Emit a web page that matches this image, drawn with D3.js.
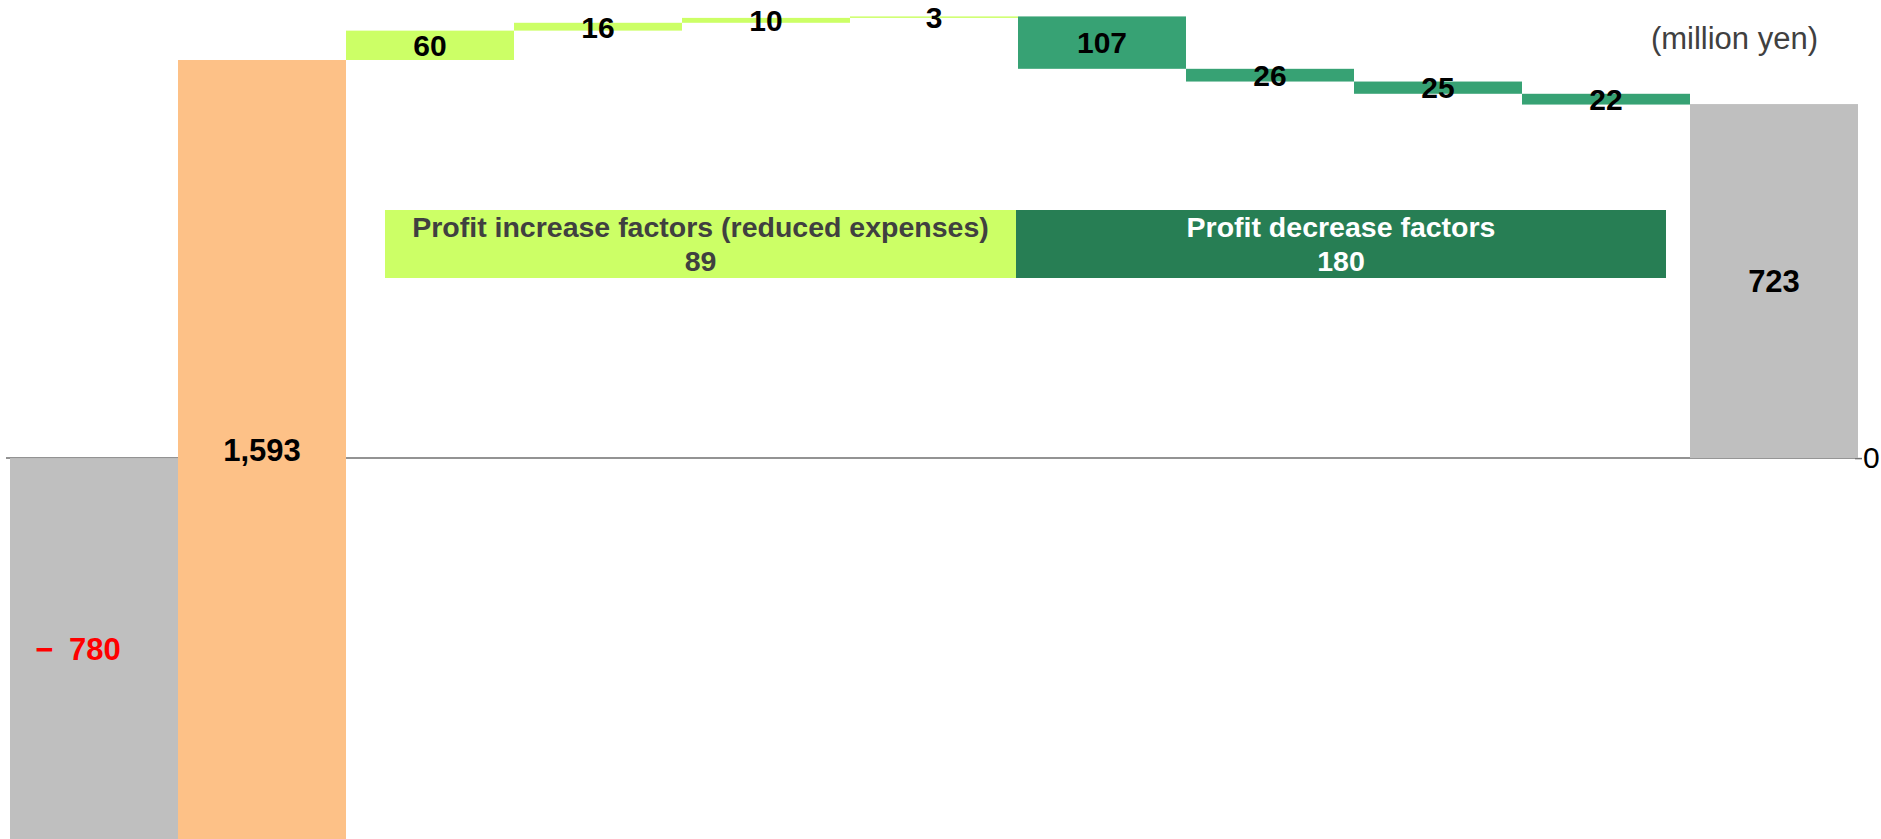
<!DOCTYPE html>
<html>
<head>
<meta charset="utf-8">
<script src="https://cdn.jsdelivr.net/npm/d3@7"></script>
<style>
	html, body { margin: 0; padding: 0; background: #fff; }
	svg { display: block; font-family: "Liberation Sans", Arial, sans-serif; }
</style>
</head>
<body>
<div id="chart"></div>
<script>
/* global d3 */

// waterfall steps, left to right
var steps = ["start", "f1", "u1", "u2", "u3", "u4", "d1", "d2", "d3", "d4", "end"],
	stepValues = [-780, 1593, 60, 16, 10, 3, -107, -26, -25, -22, 723],
	stepKinds = ["total", "base", "up", "up", "up", "up", "down", "down", "down", "down", "total"],
	stepLabels = ["\u2212\u2002780", "1,593", "60", "16", "10", "3", "107", "26", "25", "22", "723"];

// summary boxes over the up / down groups
var groupNames = ["Profit increase factors (reduced expenses)", "Profit decrease factors"],
	groupTotals = [89, 180],
	groupFirst = ["u1", "d1"],
	groupLast = ["u4", "d4"];

var unitText = "(million yen)";

(function() {
	'use strict';

	var width = 1881,
		height = 839,
		colors = {total: "#bfbfbf", base: "#fdc187", up: "#ccff66", down: "#37a274"},
		boxFill = ["#ccff66", "#277e54"],
		boxText = ["#404040", "#ffffff"],
		svg, x, y, rows, run = 0;

	rows = steps.map(function(s, i) {
		var v = stepValues[i], r;
		if (stepKinds[i] === "total") {
			r = {y0: 0, y1: v};
			run = v;
		} else {
			r = {y0: run, y1: run + v};
			run += v;
		}
		r.key = s;
		r.kind = stepKinds[i];
		r.label = stepLabels[i];
		r.neg = v < 0 && stepKinds[i] === "total";
		return r;
	});

	x = d3.scaleBand().domain(steps).range([10, 1858]).padding(0);
	y = d3.scaleLinear().domain([-780, 813]).range([840, 60]);

	function boxLeft(i) {
		return i === 0 ? x(groupFirst[i]) + 39 : x(groupFirst[i]) - 2;
	}
	function boxRight(i) {
		return i === 0 ? x(groupLast[i]) + x.bandwidth() - 2 : x(groupLast[i]) + x.bandwidth() - 24;
	}

	svg = d3.select("#chart").append("svg")
		.attr("width", width)
		.attr("height", height);

	// zero line
	svg.append("line")
		.attr("x1", 6)
		.attr("x2", x.range()[1] - 3)
		.attr("y1", y(0))
		.attr("y2", y(0))
		.attr("stroke", "#6f6f6f")
		.attr("stroke-width", 1.5);

	var axis = svg.append("g")
		.attr("transform", "translate(" + (x.range()[1] - 3) + ",0)")
		.call(d3.axisRight(y).tickValues([0]).tickSize(7).tickPadding(1));
	axis.select(".domain").remove();
	axis.selectAll("line").attr("stroke", "#6f6f6f").attr("stroke-width", 1.5);
	axis.selectAll("text")
		.attr("font-size", 30)
		.attr("font-family", "Liberation Sans, Arial, sans-serif")
		.attr("fill", "#000");

	svg.append("g")
		.selectAll("rect")
		.data(rows)
		.join("rect")
		.attr("x", function(d) { return x(d.key); })
		.attr("width", x.bandwidth())
		.attr("y", function(d) { return y(Math.max(d.y0, d.y1)); })
		.attr("height", function(d) { return Math.abs(y(d.y0) - y(d.y1)); })
		.attr("fill", function(d) { return colors[d.kind]; });

	svg.append("g")
		.selectAll("text")
		.data(rows)
		.join("text")
		.attr("x", function(d) { return x(d.key) + x.bandwidth() / 2; })
		.attr("y", function(d) { return y((d.y0 + d.y1) / 2); })
		.attr("dx", function(d) { return d.neg ? -16 : 0; })
		.attr("dy", "0.36em")
		.attr("text-anchor", "middle")
		.attr("font-size", function(d) { return d.kind === "up" || d.kind === "down" ? 30 : 31; })
		.attr("font-weight", "bold")
		.attr("fill", function(d) { return d.neg ? "#ff0000" : "#000"; })
		.text(function(d) { return d.label; });

	// group summary boxes
	var boxes = svg.append("g")
		.selectAll("g")
		.data(groupNames)
		.join("g");

	boxes.append("rect")
		.attr("x", function(d, i) { return boxLeft(i); })
		.attr("width", function(d, i) { return boxRight(i) - boxLeft(i); })
		.attr("y", 210)
		.attr("height", 68)
		.attr("fill", function(d, i) { return boxFill[i]; });

	boxes.append("text")
		.attr("x", function(d, i) { return (boxLeft(i) + boxRight(i)) / 2; })
		.attr("text-anchor", "middle")
		.attr("font-size", 28.5)
		.attr("font-weight", "bold")
		.attr("fill", function(d, i) { return boxText[i]; })
		.call(function(t) {
			t.append("tspan")
				.attr("y", 237)
				.text(function(d) { return d; });
			t.append("tspan")
				.attr("x", function() { return d3.select(this.parentNode).attr("x"); })
				.attr("y", 271)
				.text(function(d, i) { return groupTotals[i]; });
		});

	svg.append("text")
		.attr("x", 1818)
		.attr("y", 49)
		.attr("text-anchor", "end")
		.attr("font-size", 31)
		.attr("fill", "#404040")
		.text(unitText);
})();
</script>
</body>
</html>
